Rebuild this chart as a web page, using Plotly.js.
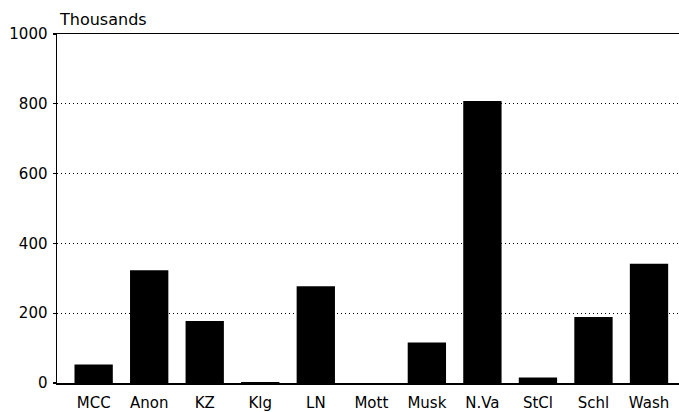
<!DOCTYPE html>
<html>
<head>
<meta charset="utf-8">
<script src="https://cdn.plot.ly/plotly-3.0.1.min.js"></script>
<style>html,body{margin:0;padding:0;background:#fff;}#chart{width:679px;height:412px;}</style>
</head>
<body>
<div id="chart"></div>
<script>
const categories = ["MCC", "Anon", "KZ", "Klg", "LN", "Mott", "Musk", "N.Va", "StCl", "Schl", "Wash"];
const values = [53, 323, 178, 3, 277, 0, 116, 808, 16, 189, 342];
const yTicks = [0, 200, 400, 600, 800, 1000];
const unitLabel = "Thousands";

const fam = "DejaVu Sans, Arial, sans-serif";
const font = {family: fam, size: 15, color: "#000"};

Plotly.newPlot("chart", [{
  type: "bar",
  x: categories,
  y: values,
  marker: {color: "#000", line: {width: 0}},
  hoverinfo: "x+y"
}], {
  width: 679, height: 412,
  margin: {l: 57, r: 0, t: 34, b: 29, pad: 0},
  paper_bgcolor: "#fff", plot_bgcolor: "#fff",
  font: font,
  bargap: 0.31,
  showlegend: false,
  xaxis: {
    type: "category",
    range: [-0.66, 10.54],
    showline: true, linecolor: "#000", linewidth: 1.5, mirror: true,
    showgrid: false, zeroline: false,
    ticks: "", ticklabelstandoff: 5,
    tickfont: font, fixedrange: true
  },
  yaxis: {
    range: [0, 1000],
    tickvals: yTicks,
    ticktext: yTicks.map(String),
    showline: true, linecolor: "#000", linewidth: 1.5,
    showgrid: true, gridcolor: "#000", gridwidth: 1.3, griddash: "1.3px,2.7px",
    zeroline: false,
    ticks: "outside", ticklen: 3, tickcolor: "#000", tickwidth: 1.2,
    ticklabelstandoff: 2,
    tickfont: font,
    fixedrange: true
  },
  annotations: [{
    text: unitLabel, xref: "paper", yref: "paper", x: 0, y: 1,
    xanchor: "left", yanchor: "bottom", yshift: 3, xshift: 0,
    showarrow: false, font: {family: fam, size: 16, color: "#000"}
  }]
}, {displayModeBar: false, staticPlot: true});
</script>
</body>
</html>
